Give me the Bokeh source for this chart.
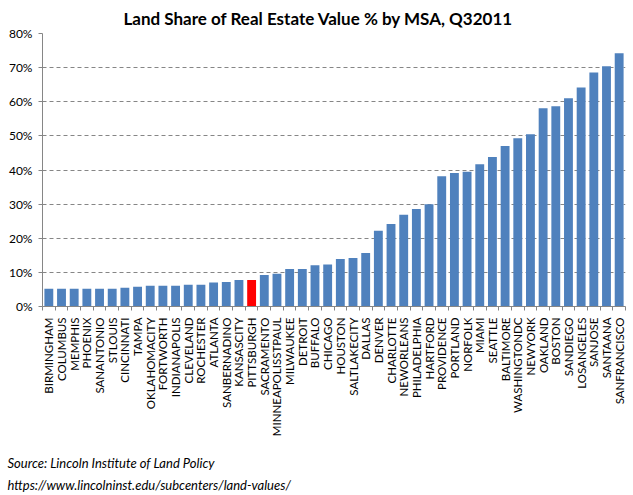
import numpy as np
from bokeh.plotting import figure
from bokeh.models import ColumnDataSource, FixedTicker, NumeralTickFormatter, Title, Range1d
from bokeh.embed import file_html
from bokeh.resources import INLINE

cats = ["BIRMINGHAM", "COLUMBUS", "MEMPHIS", "PHOENIX", "SANANTONIO", "STLOUIS",
        "CINCINNATI", "TAMPA", "OKLAHOMACITY", "FORTWORTH", "INDIANAPOLIS", "CLEVELAND",
        "ROCHESTER", "ATLANTA", "SANBERNADINO", "KANSASCITY", "PITTSBURGH", "SACRAMENTO",
        "MINNEAPOLISSTPAUL", "MILWAUKEE", "DETROIT", "BUFFALO", "CHICAGO", "HOUSTON",
        "SALTLAKECITY", "DALLAS", "DENVER", "CHARLOTTE", "NEWORLEANS", "PHILADELPHIA",
        "HARTFORD", "PROVIDENCE", "PORTLAND", "NORFOLK", "MIAMI", "SEATTLE", "BALTIMORE",
        "WASHINGTONDC", "NEWYORK", "OAKLAND", "BOSTON", "SANDIEGO", "LOSANGELES",
        "SANJOSE", "SANTAANA", "SANFRANCISCO"]
land_share_pct = [5.2, 5.2, 5.2, 5.2, 5.2, 5.2, 5.5, 5.8, 6.1, 6.1, 6.1, 6.4, 6.4, 7.0,
                  7.2, 7.8, 7.8, 9.2, 9.6, 11.0, 11.0, 12.1, 12.3, 13.9, 14.2, 15.7,
                  22.2, 24.2, 26.9, 28.6, 30.0, 38.2, 39.1, 39.5, 41.7, 43.8, 47.0,
                  49.3, 50.5, 58.1, 58.7, 61.0, 64.2, 68.6, 70.4, 74.2]
highlight = "PITTSBURGH"
y_ticks = [0, 0.1, 0.2, 0.3, 0.4, 0.5, 0.6, 0.7, 0.8]
title_text = "Land Share of Real Estate Value % by MSA, Q32011"
source_line = "Source:  Lincoln Institute  of Land Policy"
url_line = "https://www.lincolninst.edu/subcenters/land-values/"

BLUE = "#4F81BD"
RED = "#FF0000"
GRAY = "#868686"
FONT = "Lato"

n = len(cats)
xs = np.arange(n) + 0.5
colors = [RED if c == highlight else BLUE for c in cats]
src = ColumnDataSource(dict(x=xs, top=np.array(land_share_pct) / 100.0, color=colors, name=cats))

p = figure(frame_width=583, frame_height=273, output_backend="svg", toolbar_location=None,
           x_range=Range1d(0, n), y_range=Range1d(0, 0.8),
           min_border_left=42, min_border_right=8, min_border_top=10, min_border_bottom=5)

p.title = Title(text=title_text, align="left", offset=81, text_font=FONT, text_font_size="17px",
                text_font_style="bold", text_color="#000000")

p.vbar(x="x", top="top", width=0.7, bottom=0, color="color", line_color=None, source=src)

# y axis
p.yaxis.ticker = FixedTicker(ticks=y_ticks)
p.yaxis.formatter = NumeralTickFormatter(format="0%")
p.yaxis.axis_line_color = GRAY
p.yaxis.major_tick_line_color = GRAY
p.yaxis.major_tick_out = 4
p.yaxis.major_tick_in = 0
p.yaxis.minor_tick_line_color = None
p.yaxis.major_label_standoff = 6
p.yaxis.major_label_text_font = FONT
p.yaxis.major_label_text_font_size = "12px"
p.yaxis.major_label_text_color = "#000000"

# x axis
p.xaxis.ticker = FixedTicker(ticks=list(xs), minor_ticks=list(range(n + 1)))
p.xaxis.major_label_overrides = {float(x): c for x, c in zip(xs, cats)}
p.xaxis.major_label_orientation = np.pi / 2
p.xaxis.axis_line_color = GRAY
p.xaxis.major_tick_line_color = None
p.xaxis.major_tick_out = 0
p.xaxis.major_tick_in = 0
p.xaxis.minor_tick_line_color = GRAY
p.xaxis.minor_tick_out = 4
p.xaxis.minor_tick_in = 0
p.xaxis.major_label_standoff = 7
p.xaxis.major_label_text_font = FONT
p.xaxis.major_label_text_font_size = "11.5px"
p.xaxis.major_label_text_color = "#000000"

p.xgrid.grid_line_color = None
p.ygrid.ticker = FixedTicker(ticks=y_ticks)
p.ygrid.grid_line_color = GRAY
p.ygrid.grid_line_dash = "4 3"
p.outline_line_color = None

p.add_layout(Title(text=source_line + "\n" + url_line, align="left", offset=-35,
                   text_font=FONT, text_font_size="13px", text_font_style="italic",
                   text_line_height=1.385, standoff=28, text_color="#000000"), "below")

open("out.html", "w").write(file_html(p, INLINE))
